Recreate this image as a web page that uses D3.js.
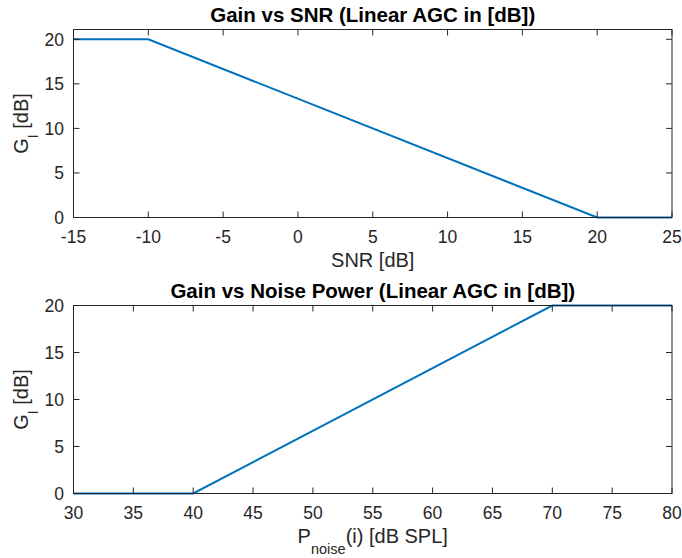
<!DOCTYPE html>
<html>
<head>
<meta charset="utf-8">
<script src="https://cdn.jsdelivr.net/npm/d3@7"></script>
<style>
  body { margin: 0; background: #fff; }
  text { font-family: "Liberation Sans", Arial, sans-serif; fill: #262626; }
</style>
</head>
<body>
<svg id="board" width="682" height="558"></svg>
<script>
    // top plot: gain vs SNR
    const snrX = [-15, -10, 20, 25]
    const snrGain = [20, 20, 0, 0]
    const snrTicks = [-15, -10, -5, 0, 5, 10, 15, 20, 25]

    // bottom plot: gain vs noise power
    const noiseX = [30, 40, 70, 80]
    const noiseGain = [0, 0, 20, 20]
    const noiseTicks = [30, 35, 40, 45, 50, 55, 60, 65, 70, 75, 80]

    const gainTicks = [0, 5, 10, 15, 20]

    var svg = d3.select("#board")
    var axisColor = "#262626"

    function drawPanel(top, xs, ys, xDomain, yMax, xTicks, title, xlabelFn)
    {
      var left = 73.5, right = 672, bottom = top + 188
      var x = d3.scaleLinear().domain(xDomain).range([left, right])
      var y = d3.scaleLinear().domain([0, yMax]).range([bottom, top])
      var g = svg.append("g")

      // line
      var pts = xs.map((d, i) => [x(d), y(ys[i])])
      g.append("path").attr("d", d3.line()(pts))
        .attr("fill", "none").attr("stroke", "#0072BD").attr("stroke-width", 2)

      // box
      g.append("rect").attr("x", left).attr("y", top).attr("width", right - left).attr("height", bottom - top)
        .attr("fill", "none").attr("stroke", axisColor).attr("stroke-width", 1)

      // x ticks (bottom and top, pointing in)
      xTicks.forEach(function(t){
        g.append("line").attr("x1", x(t)).attr("x2", x(t)).attr("y1", bottom).attr("y2", bottom - 6).attr("stroke", axisColor)
        g.append("line").attr("x1", x(t)).attr("x2", x(t)).attr("y1", top).attr("y2", top + 6).attr("stroke", axisColor)
        g.append("text").attr("x", x(t)).attr("y", bottom + 25.5).attr("text-anchor", "middle")
          .style("font-size", "17.5px").text(t)
      })
      // y ticks (left and right)
      gainTicks.forEach(function(t){
        g.append("line").attr("x1", left).attr("x2", left + 6).attr("y1", y(t)).attr("y2", y(t)).attr("stroke", axisColor)
        g.append("line").attr("x1", right).attr("x2", right - 6).attr("y1", y(t)).attr("y2", y(t)).attr("stroke", axisColor)
        g.append("text").attr("x", left - 9.5).attr("y", y(t) + 6.3).attr("text-anchor", "end")
          .style("font-size", "17.5px").text(t)
      })

      // title
      g.append("text").attr("x", (left + right) / 2).attr("y", top - 7.5).attr("text-anchor", "middle")
        .style("font-size", "20.5px").style("font-weight", "bold").style("fill", "#000").text(title)

      // y label
      var yl = g.append("text").attr("transform", "translate(28," + ((top + bottom) / 2) + ") rotate(-90)")
        .attr("text-anchor", "middle").style("font-size", "20px")
      yl.append("tspan").text("G")
      yl.append("tspan").attr("dy", 10).style("font-size", "14px").text("I")
      yl.append("tspan").attr("dy", -10).text(" [dB]")

      // x label
      xlabelFn(g.append("text").attr("x", (left + right) / 2).attr("y", bottom + 49)
        .attr("text-anchor", "middle").style("font-size", "20px"))
    }

    drawPanel(29.5, snrX, snrGain, [-15, 25], 21.1, snrTicks, "Gain vs SNR (Linear AGC in [dB])", function(t){
      t.text("SNR [dB]")
    })
    drawPanel(305.5, noiseX, noiseGain, [30, 80], 20, noiseTicks, "Gain vs Noise Power (Linear AGC in [dB])", function(t){
      t.append("tspan").text("P")
      t.append("tspan").attr("dy", 11).style("font-size", "14.5px").text("noise")
      t.append("tspan").attr("dy", -11).text("(i) [dB SPL]")
    })
</script>
</body>
</html>
